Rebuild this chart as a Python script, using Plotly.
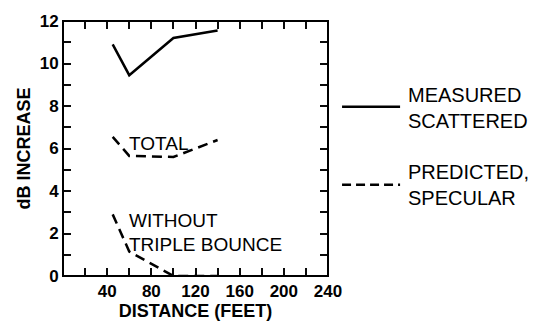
import plotly.graph_objects as go

# Data
measured_x = [45, 60, 100, 140]
measured_y = [10.9, 9.45, 11.2, 11.55]

total_x = [45, 60, 100, 140]
total_y = [6.55, 5.65, 5.6, 6.4]

no_triple_x = [45, 60, 100, 140]
no_triple_y = [2.9, 1.15, 0.0, 0.0]

x_tickvals = [20, 40, 60, 80, 100, 120, 140, 160, 180, 200, 220, 240]
x_ticktext = ["", "40", "", "80", "", "120", "", "160", "", "200", "", "240"]
y_tickvals = list(range(0, 13))
y_ticktext = [str(v) if v % 2 == 0 else "" for v in y_tickvals]

FONT = "Liberation Sans, Arial, Helvetica, sans-serif"
BLACK = "black"
TICK = "#0a0a0a"
DASH = "10px,6px"

fig = go.Figure()
fig.add_trace(go.Scatter(x=measured_x, y=measured_y, mode="lines",
                         line=dict(color=BLACK, width=2.5), showlegend=False))
fig.add_trace(go.Scatter(x=total_x, y=total_y, mode="lines",
                         line=dict(color=BLACK, width=2.5, dash=DASH), showlegend=False))
fig.add_trace(go.Scatter(x=no_triple_x, y=no_triple_y, mode="lines",
                         line=dict(color=BLACK, width=2.5, dash=DASH), showlegend=False))

tickfont = dict(family=FONT, size=17, color=BLACK, weight="bold")
axis_common = dict(showgrid=False, zeroline=False, showline=True, linecolor=BLACK,
                   mirror="ticks", ticks="inside", ticklen=8,
                   tickwidth=2, tickcolor=TICK, tickfont=tickfont)

fig.update_xaxes(range=[0, 240], tickmode="array", tickvals=x_tickvals,
                 ticktext=x_ticktext,
                 title=dict(text="DISTANCE (FEET)", standoff=2,
                            font=dict(family=FONT, size=18, color=BLACK, weight="bold")),
                 **axis_common)
fig.update_yaxes(range=[0, 12], tickmode="array", tickvals=y_tickvals,
                 ticktext=y_ticktext,
                 title=dict(text="dB INCREASE", standoff=4,
                            font=dict(family=FONT, size=18, color=BLACK, weight="bold")),
                 **axis_common)

# heavier frame around the plotting area
fig.add_shape(type="rect", xref="paper", yref="paper", x0=0, x1=1, y0=0, y1=1,
              line=dict(color=BLACK, width=2), fillcolor="rgba(0,0,0,0)")

txt = dict(family=FONT, size=19, color=BLACK)
fig.add_annotation(x=58, y=6.25, text="TOTAL", showarrow=False, xanchor="left",
                   font=txt)
fig.add_annotation(x=58, y=2.62, text="WITHOUT", showarrow=False, xanchor="left",
                   font=txt)
fig.add_annotation(x=58, y=1.5, text="TRIPLE BOUNCE", showarrow=False, xanchor="left",
                   font=txt)

# legend (drawn manually, right of plot)
fig.add_shape(type="line", xref="paper", yref="paper", x0=1.053, x1=1.272,
              y0=0.664, y1=0.664, line=dict(color=BLACK, width=2.5))
fig.add_shape(type="line", xref="paper", yref="paper", x0=1.053, x1=1.272,
              y0=0.358, y1=0.358, line=dict(color=BLACK, width=2.5, dash="9px,5px"))
fig.add_annotation(xref="paper", yref="paper", x=1.293, y=0.66, text="MEASURED<br>SCATTERED",
                   showarrow=False, xanchor="left", yanchor="middle", align="left",
                   font=dict(family=FONT, size=20, color=BLACK))
fig.add_annotation(xref="paper", yref="paper", x=1.293, y=0.357, text="PREDICTED,<br>SPECULAR",
                   showarrow=False, xanchor="left", yanchor="middle", align="left",
                   font=dict(family=FONT, size=20, color=BLACK))

fig.update_layout(width=536, height=328, margin=dict(l=63, r=208, t=15, b=45),
                  paper_bgcolor="white", plot_bgcolor="white", showlegend=False)

fig.write_html("out.html")
